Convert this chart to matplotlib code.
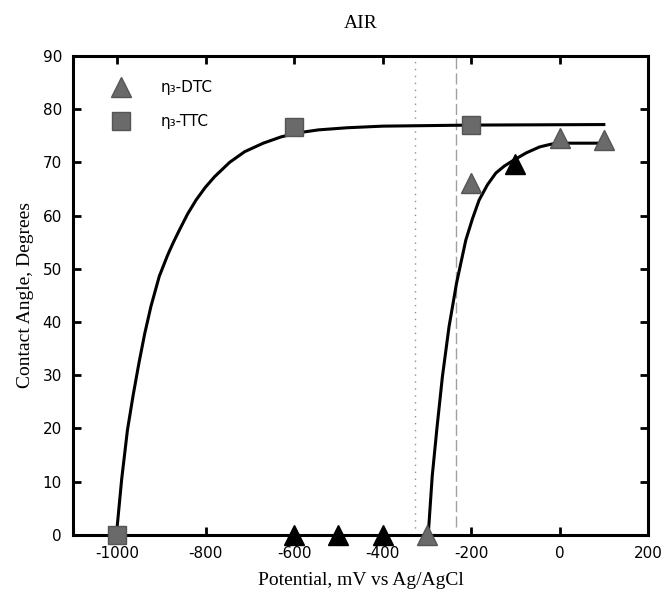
import matplotlib
matplotlib.use("Agg")
import matplotlib.pyplot as plt

plt.rcParams["axes.unicode_minus"] = False

# ----------------------
# Données
# ----------------------
ttc_x = [-1000, -600, -200]
ttc_y = [0, 76.7, 77.0]

dtc_x = [-600, -500, -400, -300, -200, -100, 0, 100]
dtc_y = [0, 0, 0, 0, 66.1, 69.6, 74.5, 74.2]
dtc_noir = [True, True, True, False, False, True, False, False]

# courbes d'ajustement
fit_ttc_x = [-1002, -990, -977, -964, -951, -938, -924, -905, -886, -873, -860, -841,
             -822, -801, -780, -746, -712, -670, -629, -587, -545, -480, -400, -200, 100]
fit_ttc_y = [0, 10.5, 19.7, 26.3, 32.3, 37.8, 42.9, 48.6, 52.6, 55.0, 57.2, 60.3,
             62.9, 65.3, 67.3, 70.0, 72.0, 73.6, 74.8, 75.6, 76.1, 76.5, 76.8, 77.0, 77.1]

fit_dtc_x = [-297, -288, -277, -265, -250, -233, -212, -197, -182, -163, -144, -125,
             -106, -75, -45, -25, -8, 100]
fit_dtc_y = [0, 11.0, 20.3, 29.7, 39.1, 47.3, 55.4, 59.4, 62.9, 65.8, 68.0, 69.3,
             70.3, 71.8, 72.9, 73.3, 73.6, 73.6]

ligne_pointillee = -327
ligne_tiretee = -235

gris = "#6a6a6a"

# ----------------------
# Figure
# ----------------------
fig = plt.figure(figsize=(6.64, 6.01), dpi=100)
ax = fig.add_axes([0.110, 0.110, 0.866, 0.797])

ax.axvline(ligne_pointillee, color="#909090", linestyle=(0, (1, 4)), lw=1, zorder=1)
ax.plot([ligne_tiretee, ligne_tiretee], [1.5, 90], color="#a0a0a0",
        linestyle=(0, (8, 3)), lw=1, zorder=1)

ax.plot(fit_ttc_x, fit_ttc_y, color="black", lw=2.2, zorder=2)
ax.plot(fit_dtc_x, fit_dtc_y, color="black", lw=2.2, zorder=2)

ax.plot(ttc_x, ttc_y, "s", color=gris, mec="#555555", ms=13, zorder=3, clip_on=False)
for x, y, noir in zip(dtc_x, dtc_y, dtc_noir):
    ax.plot(x, y, "^", color="black" if noir else gris, mec="black" if noir else "#555555",
            ms=14, zorder=3, clip_on=False)

# légende (marqueurs gris)
h_dtc, = ax.plot([], [], "^", color=gris, mec="#555555", ms=14, label="η\u2083-DTC")
h_ttc, = ax.plot([], [], "s", color=gris, mec="#555555", ms=13, label="η\u2083-TTC")
ax.legend(handles=[h_dtc, h_ttc], loc="upper left", frameon=False,
          prop={"family": "DejaVu Sans", "size": 11}, borderaxespad=0.4,
          labelspacing=1.25, handletextpad=1.6, bbox_to_anchor=(0.035, 0.975))

ax.set_xlim(-1100, 200)
ax.set_ylim(0, 90)
ax.set_xticks([-1000, -800, -600, -400, -200, 0, 200])
ax.set_yticks(range(0, 91, 10))
ax.tick_params(direction="in", length=6, width=2, top=True, right=True,
               labelsize=11, pad=8)
for lab in ax.get_xticklabels() + ax.get_yticklabels():
    lab.set_family("DejaVu Sans")
for sp in ax.spines.values():
    sp.set_linewidth(2.2)

serif = ["Liberation Serif", "DejaVu Serif"]
ax.set_title("AIR", family=serif, fontsize=14, pad=20)
ax.set_xlabel("Potential, mV vs Ag/AgCl", family=serif, fontsize=14, labelpad=8)
ax.set_ylabel("Contact Angle, Degrees", family=serif, fontsize=14, labelpad=6)

fig.savefig("out.png", dpi=100)
